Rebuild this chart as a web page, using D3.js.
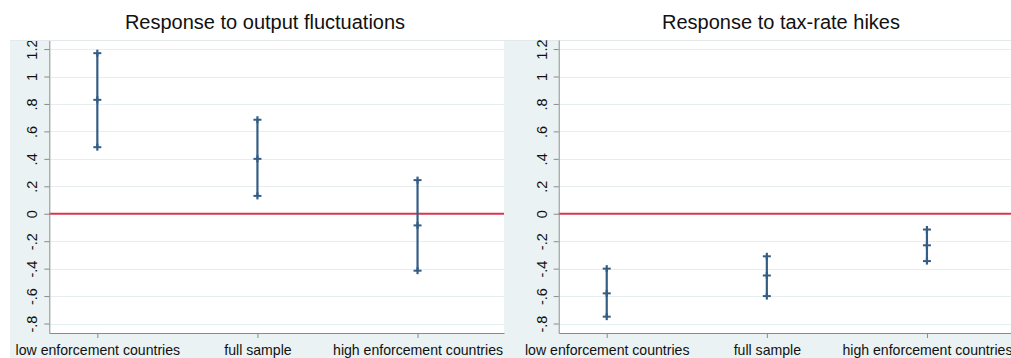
<!DOCTYPE html>
<html>
<head>
<meta charset="utf-8">
<script src="https://cdn.jsdelivr.net/npm/d3@7"></script>
<style>
  body { margin: 0; background: #ffffff; }
  svg { display: block; font-family: Arial, "Liberation Sans", sans-serif; }
</style>
</head>
<body>
<svg id="chart" width="1011" height="358"></svg>
<script>
// ---- data ----
const categories = ["low enforcement countries", "full sample", "high enforcement countries"];
const panelTitles = ["Response to output fluctuations", "Response to tax-rate hikes"];

const outputEstimate = [0.83, 0.40, -0.085];
const outputLower    = [0.485, 0.13, -0.415];
const outputUpper    = [1.17, 0.685, 0.245];

const taxEstimate = [-0.58, -0.45, -0.23];
const taxLower    = [-0.75, -0.60, -0.345];
const taxUpper    = [-0.40, -0.31, -0.115];

const yTickValues = [-0.8, -0.6, -0.4, -0.2, 0, 0.2, 0.4, 0.6, 0.8, 1, 1.2];
const yTickLabels = ["-.8", "-.6", "-.4", "-.2", "0", ".2", ".4", ".6", ".8", "1", "1.2"];

// ---- layout ----
const W = 1011, H = 358;
const regionLeft = 10, regionTop = 40;
const plotTop = 40, plotBottom = 333, plotWidth = 454.7;
const panelAxisX = [49.3, 558.7];
const titleX = [265, 781];
const colors = { bg: "#eaf2f3", grid: "#e6eef0", axis: "#8a8a8a", bar: "#345d84", zero: "#db3451" };

const svg = d3.select("#chart");
svg.append("rect").attr("x", 0).attr("y", 0).attr("width", W).attr("height", H).attr("fill", "#ffffff");
svg.append("rect").attr("x", regionLeft).attr("y", regionTop).attr("width", W - regionLeft).attr("height", H - regionTop).attr("fill", colors.bg);

const y = d3.scaleLinear().domain([-0.869, 1.266]).range([plotBottom, plotTop]);
const x = d3.scaleLinear().domain([0.7, 3.54]).range([0, plotWidth]);

const panels = [
  { title: panelTitles[0], est: outputEstimate, lo: outputLower, hi: outputUpper },
  { title: panelTitles[1], est: taxEstimate, lo: taxLower, hi: taxUpper }
];

panels.forEach((p, pi) => {
  const g = svg.append("g").attr("transform", `translate(${panelAxisX[pi]},0)`);

  // plot area
  g.append("rect").attr("x", 0).attr("y", plotTop).attr("width", plotWidth).attr("height", plotBottom - plotTop).attr("fill", "#ffffff");
  g.append("line").attr("x1", -panelAxisX[pi] + regionLeft).attr("x2", plotWidth).attr("y1", plotTop + 0.5).attr("y2", plotTop + 0.5)
    .attr("stroke", "#e3e9eb").attr("stroke-width", 1);

  // gridlines
  g.selectAll("line.grid").data(yTickValues.filter(v => v !== 0)).join("line")
    .attr("class", "grid")
    .attr("x1", 0).attr("x2", plotWidth)
    .attr("y1", d => Math.round(y(d)) + 0.5).attr("y2", d => Math.round(y(d)) + 0.5)
    .attr("stroke", colors.grid).attr("stroke-width", 1.2);

  // zero line
  g.append("line").attr("x1", 0).attr("x2", plotWidth).attr("y1", y(0)).attr("y2", y(0))
    .attr("stroke", colors.zero).attr("stroke-width", 2);

  // y axis
  const ya = g.append("g").call(d3.axisLeft(y).tickValues(yTickValues).tickFormat((d, i) => yTickLabels[i]).tickSize(5).tickSizeOuter(0));
  ya.select(".domain").attr("stroke", colors.axis);
  ya.selectAll(".tick line").attr("stroke", colors.axis);
  ya.selectAll(".tick text")
    .attr("x", null).attr("dy", null)
    .attr("transform", "translate(-12,0) rotate(-90)")
    .attr("text-anchor", "middle")
    .attr("font-size", 14.5).attr("fill", "#111");

  // x axis
  const xa = g.append("g").attr("transform", `translate(0,${plotBottom})`)
    .call(d3.axisBottom(x).tickValues([1, 2, 3]).tickFormat((d, i) => categories[i]).tickSize(5).tickSizeOuter(0));
  xa.select(".domain").attr("stroke", colors.axis);
  xa.selectAll(".tick line").attr("stroke", colors.axis);
  xa.selectAll(".tick text").attr("y", 22).attr("dy", null).attr("font-size", 14.1).attr("fill", "#111");

  // error bars
  const rows = categories.map((c, i) => ({ i: i + 1, est: p.est[i], lo: p.lo[i], hi: p.hi[i] }));
  const bars = g.append("g").selectAll("g").data(rows).join("g");
  bars.append("line")
    .attr("x1", d => x(d.i)).attr("x2", d => x(d.i))
    .attr("y1", d => y(d.lo)).attr("y2", d => y(d.hi))
    .attr("stroke", colors.bar).attr("stroke-width", 2.2);
  ["lo", "est", "hi"].forEach(k => {
    bars.append("line")
      .attr("x1", d => x(d.i) - 4).attr("x2", d => x(d.i) + 4)
      .attr("y1", d => y(d[k])).attr("y2", d => y(d[k]))
      .attr("stroke", colors.bar).attr("stroke-width", 2);
    bars.append("line")
      .attr("x1", d => x(d.i)).attr("x2", d => x(d.i))
      .attr("y1", d => y(d[k]) - 3.5).attr("y2", d => y(d[k]) + 3.5)
      .attr("stroke", colors.bar).attr("stroke-width", 2.2);
  });

  // title
  svg.append("text").attr("x", titleX[pi]).attr("y", 29).attr("text-anchor", "middle")
    .attr("font-size", 20).attr("fill", "#111").text(p.title);
});
</script>
</body>
</html>
